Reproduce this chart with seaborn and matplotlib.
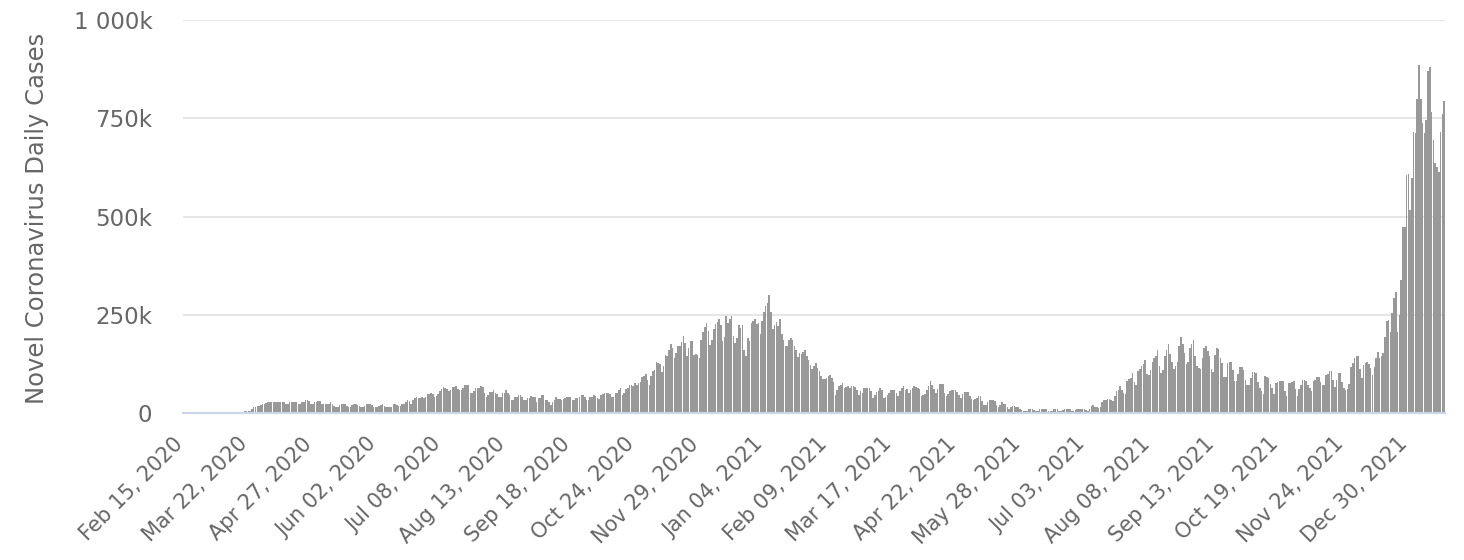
import numpy as np
import pandas as pd
import matplotlib
matplotlib.use("Agg")
import matplotlib.pyplot as plt
import matplotlib.transforms as mtransforms
import seaborn as sns

# ---------------- data (daily new cases, thousands) ----------------
start_date = "2020-02-15"

# Feb 15, 2020 .. Dec 31, 2020 (weekly rows, Sat..Fri)
cases_2020 = [
    0, 0, 0, 0, 0, 0, 0,
    0, 0, 0, 0, 0, 0, 0,
    0, 0, 0, 0, 0.1, 0.1, 0.1,
    0.1, 0.1, 0.2, 0.3, 0.4, 0.5, 0.7,
    0.8, 1, 1.5, 2, 2.5, 3, 4,
    5, 5, 6, 9, 14, 16, 17,
    18, 20, 22, 23, 25, 27, 27,
    28, 27, 27, 28, 28, 29, 28,
    27, 22, 23, 27, 28, 28, 27,
    27, 22, 24, 27, 28, 32, 32,
    30, 22, 23, 27, 27, 31, 30,
    24, 22, 22, 22, 24, 27, 23,
    19, 16, 15, 20, 22, 22, 22,
    17, 16, 16, 20, 22, 22, 21,
    18, 14, 14, 18, 22, 22, 22,
    20, 14, 16, 16, 19, 20, 22,
    18, 14, 14, 16, 16, 22, 22,
    20, 17, 17, 22, 22, 27, 32,
    30, 22, 33, 38, 41, 38, 38,
    40, 38, 40, 48, 48, 50, 48,
    41, 42, 48, 57, 62, 67, 64,
    60, 55, 58, 67, 67, 68, 60,
    58, 58, 64, 70, 72, 70, 52,
    50, 55, 63, 63, 64, 69, 66,
    50, 41, 45, 54, 54, 58, 52,
    48, 41, 41, 52, 52, 58, 50,
    46, 34, 34, 41, 41, 47, 45,
    40, 34, 34, 38, 38, 42, 40,
    40, 28, 38, 38, 46, 46, 34,
    34, 28, 21, 28, 34, 41, 35,
    35, 33, 35, 38, 41, 41, 40,
    33, 33, 38, 38, 40, 46, 46,
    40, 34, 34, 40, 40, 46, 42,
    38, 36, 46, 48, 50, 50, 52,
    48, 41, 41, 52, 52, 58, 63,
    45, 50, 62, 64, 72, 70, 68,
    76, 70, 76, 80, 92, 95, 99,
    85, 70, 95, 108, 110, 129, 127,
    125, 105, 120, 148, 145, 161, 176,
    165, 140, 153, 170, 170, 180, 197,
    178, 144, 165, 182, 182, 148, 150,
    148, 140, 187, 205, 219, 229, 208,
    172, 187, 214, 226, 232, 239, 224,
    182, 193, 246, 229, 240, 246, 197,
    178, 191, 224, 216, 225, 161, 144,
    191, 182, 229, 235, 239, 226,
]

# Jan 1, 2021 .. Dec 31, 2021
cases_2021 = [
    229,
    200, 233, 256, 273, 280, 301, 256,
    214, 224, 232, 222, 239, 200, 185,
    171, 171, 187, 190, 187, 170, 160,
    142, 153, 150, 154, 161, 144, 135,
    123, 112, 119, 127, 115, 106, 93,
    87, 87, 90, 93, 97, 88, 80,
    47, 59, 68, 72, 76, 64, 66,
    69, 64, 69, 69, 66, 59, 47,
    55, 50, 64, 64, 64, 64, 55,
    38, 45, 54, 55, 64, 58, 38,
    40, 47, 52, 59, 59, 59, 50,
    43, 55, 64, 69, 59, 60, 51,
    59, 64, 69, 66, 64, 60, 42,
    45, 49, 59, 69, 81, 72, 60,
    51, 60, 75, 75, 75, 51, 44,
    48, 55, 59, 59, 59, 53, 45,
    38, 48, 54, 54, 54, 42, 36,
    32, 35, 38, 44, 42, 30, 21,
    21, 28, 32, 32, 32, 30, 21,
    15, 20, 27, 23, 22, 15, 11,
    14, 18, 17, 15, 15, 11, 8,
    6, 6, 5, 10, 10, 10, 8,
    6, 6, 10, 10, 10, 10, 10,
    6, 6, 6, 10, 10, 10, 6,
    6, 8, 10, 10, 10, 10, 6,
    6, 8, 10, 10, 10, 10, 10,
    8, 6, 10, 18, 20, 15, 14,
    12, 14, 29, 32, 33, 36, 35,
    33, 30, 43, 57, 59, 68, 59,
    51, 48, 81, 86, 89, 102, 80,
    72, 106, 112, 119, 125, 134, 100,
    97, 110, 129, 140, 146, 161, 120,
    102, 110, 144, 160, 176, 150, 130,
    113, 120, 129, 170, 193, 175, 153,
    125, 130, 165, 175, 187, 144, 120,
    114, 112, 140, 165, 171, 159, 146,
    113, 105, 148, 165, 164, 140, 126,
    91, 91, 126, 131, 131, 110, 81,
    81, 100, 117, 117, 110, 85, 70,
    70, 90, 105, 105, 102, 80, 64,
    55, 49, 95, 92, 89, 75, 64,
    49, 76, 80, 81, 81, 81, 55,
    42, 76, 76, 78, 81, 60, 42,
    60, 70, 85, 85, 81, 70, 64,
    57, 81, 85, 91, 91, 80, 72,
    72, 97, 100, 106, 106, 84, 65,
    85, 101, 101, 80, 63, 58, 60,
    75, 116, 126, 140, 145, 145, 111,
    88, 122, 126, 131, 125, 114, 97,
    118, 139, 156, 139, 145, 152, 194,
    235, 237, 207, 254, 292, 309, 207,
    249, 338, 474, 474, 605, 608, 516,
]

# Jan 1, 2022 .. Jan 19, 2022
cases_2022 = [597, 716, 713, 800, 885, 800, 737, 712, 746, 869,
              881, 767, 695, 636, 625, 614, 716, 760, 795]

tick_labels = ["Feb 15, 2020", "Mar 22, 2020", "Apr 27, 2020", "Jun 02, 2020",
               "Jul 08, 2020", "Aug 13, 2020", "Sep 18, 2020", "Oct 24, 2020",
               "Nov 29, 2020", "Jan 04, 2021", "Feb 09, 2021", "Mar 17, 2021",
               "Apr 22, 2021", "May 28, 2021", "Jul 03, 2021", "Aug 08, 2021",
               "Sep 13, 2021", "Oct 19, 2021", "Nov 24, 2021", "Dec 30, 2021"]

y_ticks = [0, 250000, 500000, 750000, 1000000]
y_tick_labels = ["0", "250k", "500k", "750k", "1 000k"]
y_title = "Novel Coronavirus Daily Cases"

# ---------------- build table ----------------
cases_k = cases_2020 + cases_2021 + cases_2022
start = pd.Timestamp(start_date)
dates = pd.date_range(start, periods=len(cases_k), freq="D")
df = pd.DataFrame({"day": np.arange(len(cases_k)),
                   "date": dates,
                   "cases": np.array(cases_k, dtype=float) * 1000})

tick_pos = [(d - start).days for d in pd.to_datetime(tick_labels, format="%b %d, %Y")]

# ---------------- plot ----------------
sns.set_theme(style="white")
plt.rcParams["font.family"] = ["DejaVu Sans"]

W, H = 1464, 560
fig = plt.figure(figsize=(W / 100, H / 100), dpi=100)
ax = fig.add_axes([183 / W, (H - 413) / H, (1445 - 183) / W, (413 - 20) / H])

sns.barplot(data=df, x="day", y="cases", color="#999999", width=0.88,
            linewidth=0, saturation=1, errorbar=None, native_scale=True, ax=ax)

ax.set_xlim(-0.5, len(cases_k) - 0.5)
ax.set_ylim(0, 1000000)

ax.set_yticks(y_ticks)
ax.set_yticklabels(y_tick_labels)
ax.yaxis.grid(True, color="#e6e6e6", linewidth=1.4)
ax.xaxis.grid(False)
ax.set_axisbelow(True)

for s in ["top", "right", "left"]:
    ax.spines[s].set_visible(False)
ax.spines["bottom"].set_color("#ccd6eb")
ax.spines["bottom"].set_linewidth(1.5)
ax.spines["bottom"].set_zorder(5)

ax.tick_params(axis="y", length=0, pad=22, labelsize=16.5, labelcolor="#666666")
ax.set_xticks(tick_pos)
ax.set_xticklabels(tick_labels, rotation=45, ha="right", va="center",
                   rotation_mode="anchor")
ax.tick_params(axis="x", length=0, pad=20, labelsize=15, labelcolor="#666666")
offset = mtransforms.ScaledTranslation(-4 / 100, 0, fig.dpi_scale_trans)
for lab in ax.get_xticklabels():
    lab.set_transform(lab.get_transform() + offset)

ax.set_xlabel("")
ax.set_ylabel(y_title, fontsize=17.5, color="#666666", ha="center", va="center")
ax.yaxis.set_label_coords((37 - 183) / (1445 - 183), 0.496)

fig.savefig("out.png", dpi=100, facecolor="white")
